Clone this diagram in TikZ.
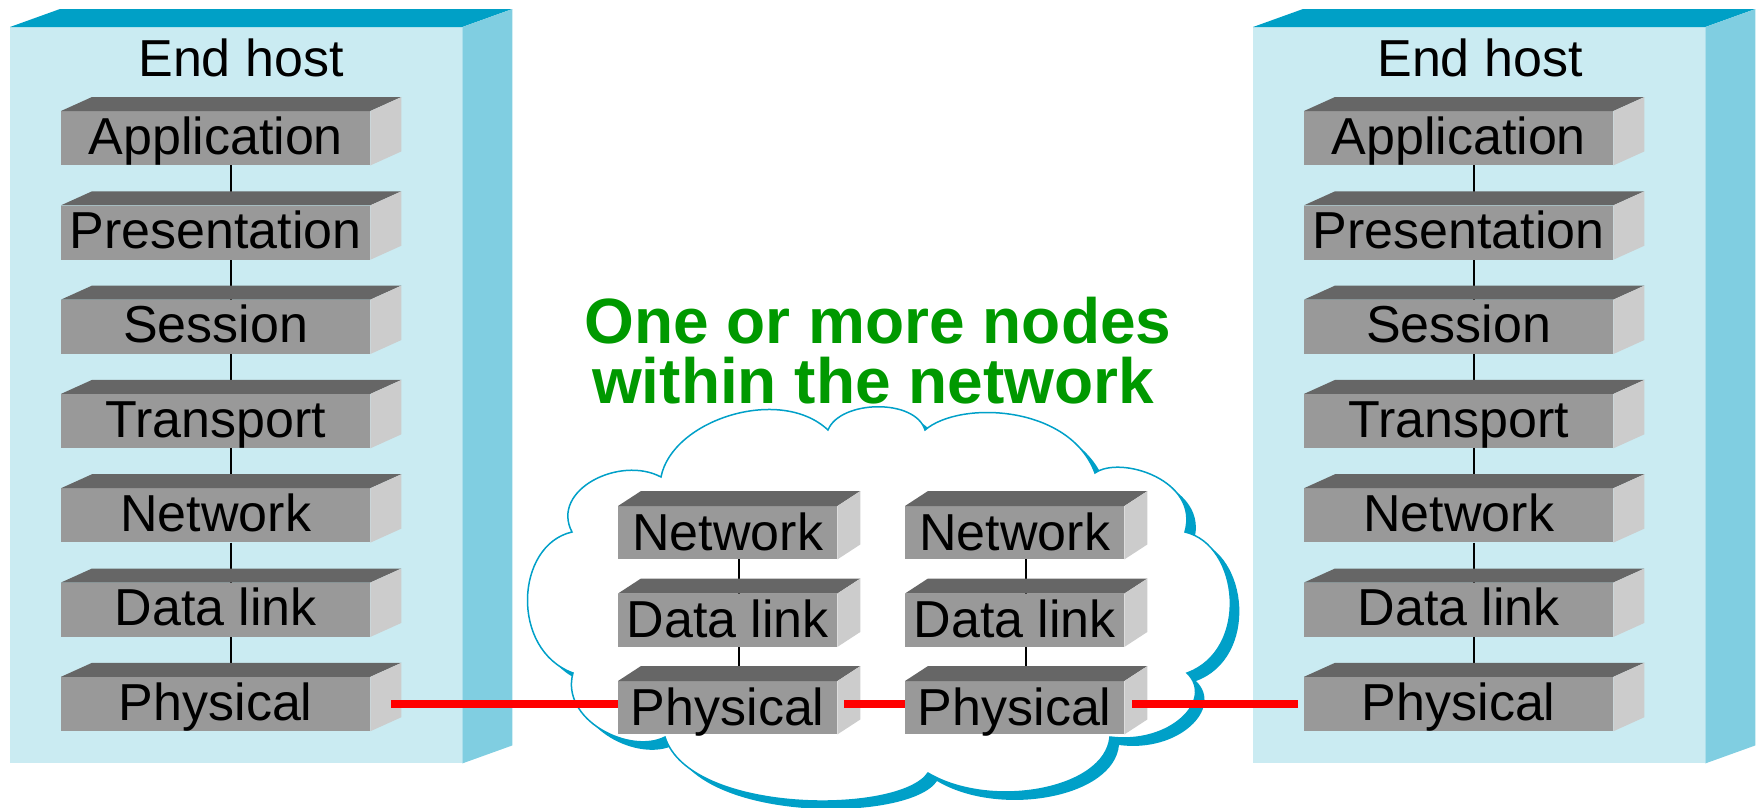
\documentclass[tikz,border=0pt]{standalone}
\usepackage{fontspec}
\setmainfont{Liberation Sans}
\usetikzlibrary{calc}

\definecolor{hostfront}{RGB}{202,235,242}
\definecolor{hosttop}{RGB}{0,160,198}
\definecolor{hostside}{RGB}{128,206,225}
\definecolor{layerfront}{RGB}{153,153,153}
\definecolor{layertop}{RGB}{102,102,102}
\definecolor{layerside}{RGB}{204,204,204}
\definecolor{cloudblue}{RGB}{0,160,200}
\definecolor{titlegreen}{RGB}{0,153,0}
\definecolor{wirered}{RGB}{255,0,0}

\pgfdeclarelayer{backdrop}
\pgfdeclarelayer{links}
\pgfsetlayers{backdrop,links,main}

% top and right faces of an extruded box, drawn from its front node
\newcommand\extrudefaces[5]{%
  \fill[#4] (#1.north west) -- ++(#2,-#3) -- ($(#1.north east)+(#2,-#3)$) -- (#1.north east) -- cycle;
  \fill[#5] (#1.north east) -- ++(#2,-#3) -- ($(#1.south east)+(#2,-#3)$) -- (#1.south east) -- cycle;}

\tikzset{
  hostface/.style={rectangle, fill=hostfront, inner sep=0pt, anchor=north west,
    minimum width=452pt, minimum height=736pt},
  hostlabel/.style={anchor=base, inner sep=0pt, font=\fontsize{52}{52}\selectfont},
  hostlayer/.style={rectangle, fill=layerfront, inner sep=0pt, anchor=north west,
    minimum width=309pt, minimum height=54pt, text height=43pt, text depth=11pt,
    font=\fontsize{52}{52}\selectfont},
  netlayer/.style={rectangle, fill=layerfront, inner sep=0pt, anchor=north west,
    minimum width=219pt, minimum height=53pt, text height=44pt, text depth=9pt,
    font=\fontsize{52}{52}\selectfont},
  titletext/.style={anchor=base, inner sep=0pt, text=titlegreen,
    font=\bfseries\fontsize{64}{64}\selectfont},
  stacklink/.style={draw=black, line width=1.5pt},
  wire/.style={draw=wirered, line width=8pt},
  cloudshape/.pic={
    \path[pic actions] (661,477)
      .. controls (672,420) and (780,385) .. (828,430)
      .. controls (840,400) and (915,398) .. (925,430)
      .. controls (960,400) and (1070,405) .. (1095,473)
      .. controls (1120,455) and (1200,480) .. (1185,532)
      .. controls (1240,545) and (1250,650) .. (1187,673)
      .. controls (1215,700) and (1170,745) .. (1110,737)
      .. controls (1105,790) and (990,810) .. (928,773)
      .. controls (900,815) and (690,815) .. (665,737)
      .. controls (630,755) and (560,720) .. (573,673)
      .. controls (510,650) and (515,545) .. (572,532)
      .. controls (550,490) and (620,455) .. (661,477) -- cycle;
  }
}

\begin{document}
\begin{tikzpicture}[x=1pt,y=-1pt]
\useasboundingbox (0,0) rectangle (1758,807);

% end host cabinets and the network cloud
\begin{pgfonlayer}{backdrop}
  \node[hostface] (hostL) at (10,27) {};
  \extrudefaces{hostL}{50}{18}{hosttop}{hostside}
  \node[hostface] (hostR) at (1253,27) {};
  \extrudefaces{hostR}{50}{18}{hosttop}{hostside}
  \pic[fill=cloudblue] at (9,8) {cloudshape};
  \pic[fill=white, draw=cloudblue, line width=1.5pt] at (0,0) {cloudshape};
\end{pgfonlayer}

\node[hostlabel] (hostLlabel) at (241,76) {End host};
\node[hostlabel] (hostRlabel) at (1480,76) {End host};

% seven-layer stacks in the end hosts
\foreach \n/\t [count=\i from 0] in {A/Application, P/Presentation, S/Session,
    T/Transport, N/Network, D/Data link, Y/Physical} {
  \node[hostlayer] (L\n) at (61, 111+94.3*\i) {\t};
  \extrudefaces{L\n}{31}{14}{layertop}{layerside}
  \node[hostlayer] (R\n) at (1304, 111+94.3*\i) {\t};
  \extrudefaces{R\n}{31}{14}{layertop}{layerside}
}

% three-layer stacks in the intermediate nodes
\foreach \n/\t [count=\i from 0] in {N/Network, D/Data link, Y/Physical} {
  \node[netlayer] (A\n) at (618, 506+87.5*\i) {\t};
  \extrudefaces{A\n}{23}{15}{layertop}{layerside}
  \node[netlayer] (B\n) at (905, 506+87.5*\i) {\t};
  \extrudefaces{B\n}{23}{15}{layertop}{layerside}
}

% vertical links between adjacent layers
\begin{pgfonlayer}{links}
  \foreach \a/\b in {A/P, P/S, S/T, T/N, N/D, D/Y} {
    \draw[stacklink] ([xshift=15.5pt]L\a.south) -- ([xshift=15.5pt]L\b.north);
    \draw[stacklink] ([xshift=15.5pt]R\a.south) -- ([xshift=15.5pt]R\b.north);
  }
  \foreach \a/\b in {N/D, D/Y} {
    \draw[stacklink] ([xshift=11.5pt]A\a.south) -- ([xshift=11.5pt]A\b.north);
    \draw[stacklink] ([xshift=11.5pt]B\a.south) -- ([xshift=11.5pt]B\b.north);
  }
\end{pgfonlayer}

% physical medium between the stacks
\coordinate (wireline) at (0,704);
\draw[wire] ([xshift=21pt]LY.east |- wireline) -- (AY.west |- wireline);
\draw[wire] ([xshift=7pt]AY.east |- wireline) -- (BY.west |- wireline);
\draw[wire] ([xshift=8pt]BY.east |- wireline) -- ([xshift=-6pt]RY.west |- wireline);

% caption over the cloud
\node[titletext] (title1) at (878,343) {One or more nodes};
\node[titletext] (title2) at (873,403) {within the network};
\end{tikzpicture}
\end{document}
